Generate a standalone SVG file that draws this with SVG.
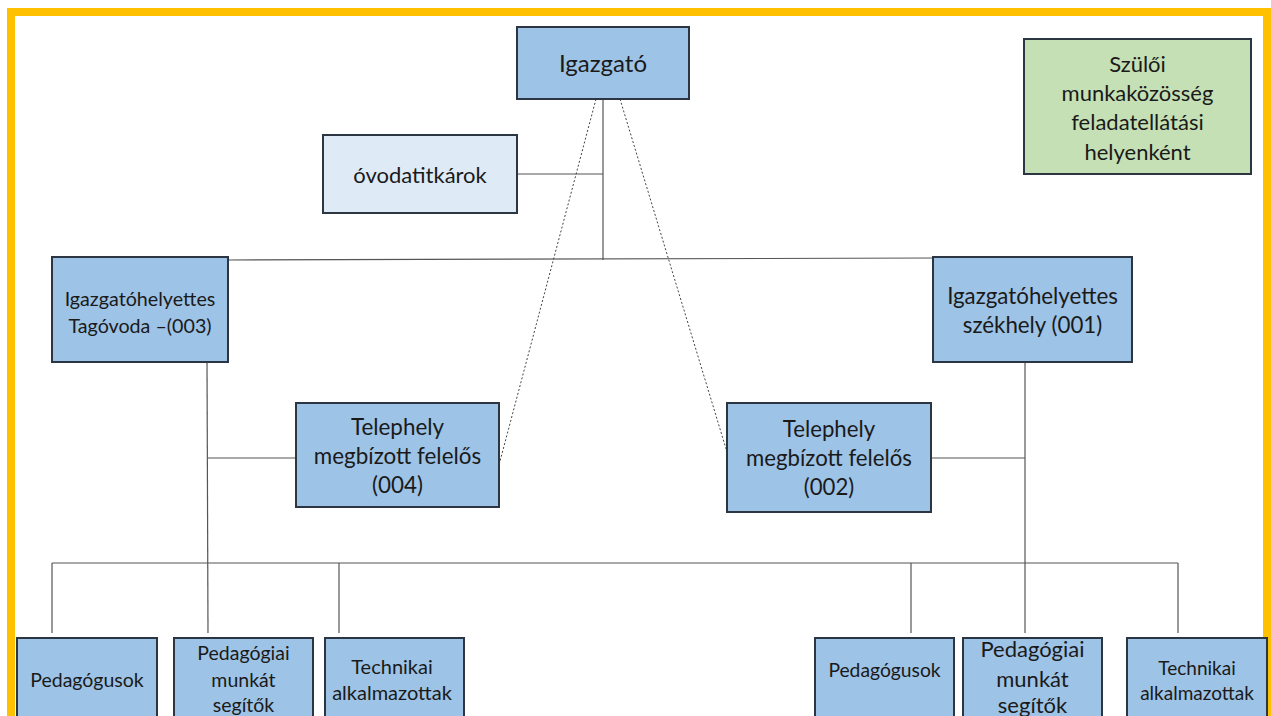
<svg xmlns="http://www.w3.org/2000/svg" width="1271" height="716" viewBox="0 0 1271 716">
<style>
.box{fill:#9dc3e6;stroke:#2b3642;stroke-width:2}
.lite{fill:#deebf7;stroke:#2b3642;stroke-width:2}
.green{fill:#c5e0b4;stroke:#2b3642;stroke-width:2}
text{font-family:Lato,"Open Sans","Liberation Sans",sans-serif;fill:#1a1a1a;text-anchor:middle}
.ln{stroke:#555;stroke-width:1.2;fill:none}
.dot{stroke:#444;stroke-width:1;fill:none;stroke-dasharray:2 2}
</style>
<rect x="0" y="0" width="1271" height="716" fill="#ffffff"/>
<rect id="frame" x="11" y="12" width="1256" height="800" fill="none" stroke="#ffc000" stroke-width="8"/>
<g id="connectors">
<line class="ln" x1="603" y1="99" x2="603" y2="260"/>
<line class="ln" x1="517" y1="174" x2="603" y2="174"/>
<line class="ln" x1="228" y1="260" x2="933" y2="258"/>
<line class="dot" x1="596" y1="99" x2="499" y2="465"/>
<line class="dot" x1="620" y1="99" x2="727" y2="452"/>
<line class="ln" x1="207" y1="362" x2="208" y2="633"/>
<line class="ln" x1="208" y1="458" x2="296" y2="458"/>
<line class="ln" x1="1025" y1="362" x2="1025" y2="633"/>
<line class="ln" x1="931" y1="458" x2="1025" y2="458"/>
<line class="ln" x1="52" y1="563" x2="1178" y2="563"/>
<line class="ln" x1="52" y1="563" x2="52" y2="633"/>
<line class="ln" x1="339" y1="563" x2="339" y2="633"/>
<line class="ln" x1="911" y1="563" x2="911" y2="633"/>
<line class="ln" x1="1178" y1="563" x2="1178" y2="633"/>
</g>
<g id="igazgato">
<rect class="box" x="517" y="27" width="172" height="72"/>
<text x="603" y="72" font-size="24">Igazgató</text>
</g>
<g id="ovodatitkarok">
<rect class="lite" x="323" y="135" width="194" height="78"/>
<text x="420" y="183" font-size="22">óvodatitkárok</text>
</g>
<g id="szuloi">
<rect class="green" x="1024" y="39" width="227" height="135"/>
<text x="1137.5" y="72" font-size="22">Szülői</text>
<text x="1137.5" y="101" font-size="22">munkaközösség</text>
<text x="1137.5" y="130" font-size="22">feladatellátási</text>
<text x="1137.5" y="160" font-size="22">helyenként</text>
</g>
<g id="helyettes003">
<rect class="box" x="52" y="257" width="176" height="105"/>
<text x="140" y="306" font-size="19.7">Igazgatóhelyettes</text>
<text x="140" y="333" font-size="19.7">Tagóvoda –(003)</text>
</g>
<g id="helyettes001">
<rect class="box" x="933" y="257" width="199" height="105"/>
<text x="1032.5" y="304" font-size="22.3">Igazgatóhelyettes</text>
<text x="1032.5" y="333" font-size="22.3">székhely (001)</text>
</g>
<g id="telephely004">
<rect class="box" x="296" y="403" width="203" height="104"/>
<text x="397.5" y="435" font-size="22.4">Telephely</text>
<text x="397.5" y="464" font-size="22.4">megbízott felelős</text>
<text x="397.5" y="493" font-size="22.4">(004)</text>
</g>
<g id="telephely002">
<rect class="box" x="727" y="403" width="204" height="109"/>
<text x="829" y="437" font-size="22.2">Telephely</text>
<text x="829" y="466" font-size="22.2">megbízott felelős</text>
<text x="829" y="495" font-size="22.2">(002)</text>
</g>
<g id="pedagogusok-l">
<rect class="box" x="17" y="638" width="140" height="100"/>
<text x="87" y="687" font-size="19.5">Pedagógusok</text>
</g>
<g id="segitok-l">
<rect class="box" x="174" y="638" width="139" height="100"/>
<text x="243.5" y="660" font-size="19.5">Pedagógiai</text>
<text x="243.5" y="687" font-size="19.5">munkát</text>
<text x="243.5" y="712" font-size="19.5">segítők</text>
</g>
<g id="technikai-l">
<rect class="box" x="325" y="638" width="139" height="100"/>
<text x="392" y="674" font-size="20">Technikai</text>
<text x="392" y="700" font-size="20">alkalmazottak</text>
</g>
<g id="pedagogusok-r">
<rect class="box" x="815" y="638" width="139" height="100"/>
<text x="884.5" y="677" font-size="19.3">Pedagógusok</text>
</g>
<g id="segitok-r">
<rect class="box" x="963" y="638" width="139" height="100"/>
<text x="1032.5" y="657" font-size="22">Pedagógiai</text>
<text x="1032.5" y="687" font-size="22">munkát</text>
<text x="1032.5" y="713" font-size="22">segítők</text>
</g>
<g id="technikai-r">
<rect class="box" x="1127" y="638" width="140" height="100"/>
<text x="1197" y="675" font-size="19">Technikai</text>
<text x="1197" y="700" font-size="19">alkalmazottak</text>
</g>
</svg>
